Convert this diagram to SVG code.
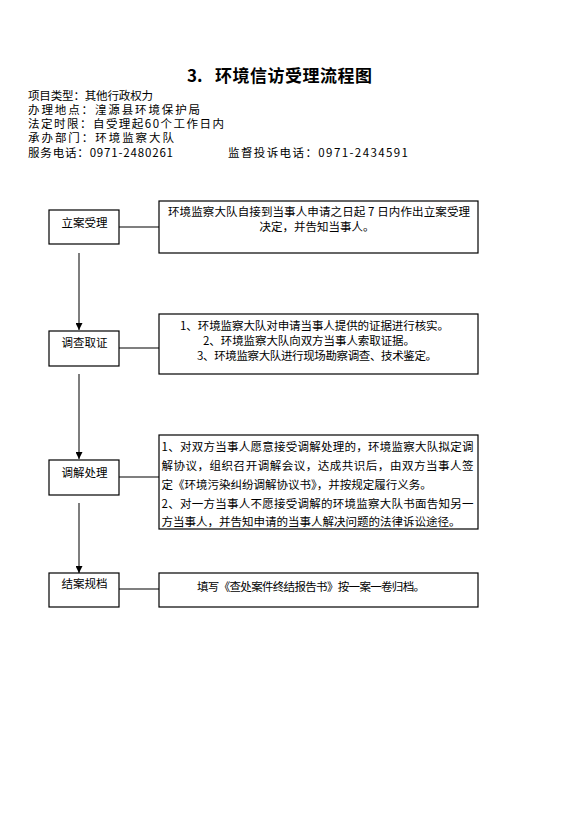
<svg xmlns="http://www.w3.org/2000/svg" width="570" height="836" viewBox="0 0 570 836">
<style>
text{font-family:"Noto Sans CJK SC","Noto Sans CJK JP",sans-serif;fill:#000;}
.h{font-size:11.5px;}
.t{font-size:17px;font-weight:bold;}
.b{font-size:11.5px;}
.box{fill:#fff;stroke:#000;stroke-width:1.2;}
.con{stroke:#000;stroke-width:1.2;fill:none;}
.arr{stroke:#707070;stroke-width:1.8;fill:none;}
</style>
<defs>
<marker id="ah" viewBox="0 0 8 8" refX="8" refY="4" markerWidth="7" markerHeight="7" markerUnits="userSpaceOnUse" orient="auto">
<path d="M0,0 L8,4 L0,8 z" fill="#000"/>
</marker>
</defs>
<rect width="570" height="836" fill="#fff"/>
<g id="header">
<text class="t" x="187" y="81.5">3.</text>
<text class="t" x="215" y="81.5" textLength="157" lengthAdjust="spacing">环境信访受理流程图</text>
<text class="h" x="28" y="100" textLength="125" lengthAdjust="spacing">项目类型：其他行政权力</text>
<text class="h" x="28" y="114" textLength="172" lengthAdjust="spacing">办理地点：湟源县环境保护局</text>
<text class="h" x="28" y="128" textLength="196" lengthAdjust="spacing">法定时限：自受理起60个工作日内</text>
<text class="h" x="28" y="142" textLength="146" lengthAdjust="spacing">承办部门：环境监察大队</text>
<text class="h" x="28" y="156.5" textLength="145" lengthAdjust="spacing">服务电话：0971-2480261</text>
<text class="h" x="228" y="156.5" textLength="180" lengthAdjust="spacing">监督投诉电话：0971-2434591</text>
</g>
<g id="connectors">
<line class="con" x1="119" y1="227" x2="159" y2="227"/>
<line class="con" x1="119" y1="348" x2="159" y2="348"/>
<line class="con" x1="119" y1="477" x2="159" y2="477"/>
<line class="con" x1="119" y1="589" x2="159" y2="589"/>
<line class="arr" x1="79" y1="253" x2="79" y2="330" marker-end="url(#ah)"/>
<line class="arr" x1="79" y1="374" x2="79" y2="459" marker-end="url(#ah)"/>
<line class="arr" x1="79" y1="503" x2="79" y2="573" marker-end="url(#ah)"/>
</g>
<g id="n1">
<rect class="box" x="49" y="210" width="70" height="34"/>
<text class="b" x="84.5" y="226.5" text-anchor="middle">立案受理</text>
</g>
<g id="d1">
<rect class="box" x="159" y="201" width="319" height="52"/>
<text class="b" x="168" y="215.5" textLength="302" lengthAdjust="spacing">环境监察大队自接到当事人申请之日起 7 日内作出立案受理</text>
<text class="b" x="317" y="230.5" text-anchor="middle">决定，并告知当事人。</text>
</g>
<g id="n2">
<rect class="box" x="49" y="331" width="70" height="35"/>
<text class="b" x="84.5" y="346.5" text-anchor="middle">调查取证</text>
</g>
<g id="d2">
<rect class="box" x="159" y="314" width="319" height="60"/>
<text class="b" x="180" y="329.5" textLength="269" lengthAdjust="spacing">1、环境监察大队对申请当事人提供的证据进行核实。</text>
<text class="b" x="203" y="344.5" textLength="212" lengthAdjust="spacing">2、环境监察大队向双方当事人索取证据。</text>
<text class="b" x="197" y="359.5" textLength="240" lengthAdjust="spacing">3、环境监察大队进行现场勘察调查、技术鉴定。</text>
</g>
<g id="n3">
<rect class="box" x="49" y="460" width="70" height="35"/>
<text class="b" x="84.5" y="476.5" text-anchor="middle">调解处理</text>
</g>
<g id="d3">
<rect class="box" x="159" y="435" width="319" height="94"/>
<text class="b" x="161.5" y="450.5" textLength="312" lengthAdjust="spacing">1、对双方当事人愿意接受调解处理的，环境监察大队拟定调</text>
<text class="b" x="161.5" y="469.5" textLength="312" lengthAdjust="spacing">解协议，组织召开调解会议，达成共识后，由双方当事人签</text>
<text class="b" x="161.5" y="488.5">定《环境污染纠纷调解协议书》，并按规定履行义务。</text>
<text class="b" x="161.5" y="507.5" textLength="312" lengthAdjust="spacing">2、对一方当事人不愿接受调解的环境监察大队书面告知另一</text>
<text class="b" x="161.5" y="526">方当事人，并告知申请的当事人解决问题的法律诉讼途径。</text>
</g>
<g id="n4">
<rect class="box" x="49" y="573" width="70" height="34"/>
<text class="b" x="84.5" y="587.5" text-anchor="middle">结案规档</text>
</g>
<g id="d4">
<rect class="box" x="159" y="573" width="319" height="34"/>
<text class="b" x="197" y="590.5" textLength="228" lengthAdjust="spacing">填写《查处案件终结报告书》按一案一卷归档。</text>
</g>
</svg>
